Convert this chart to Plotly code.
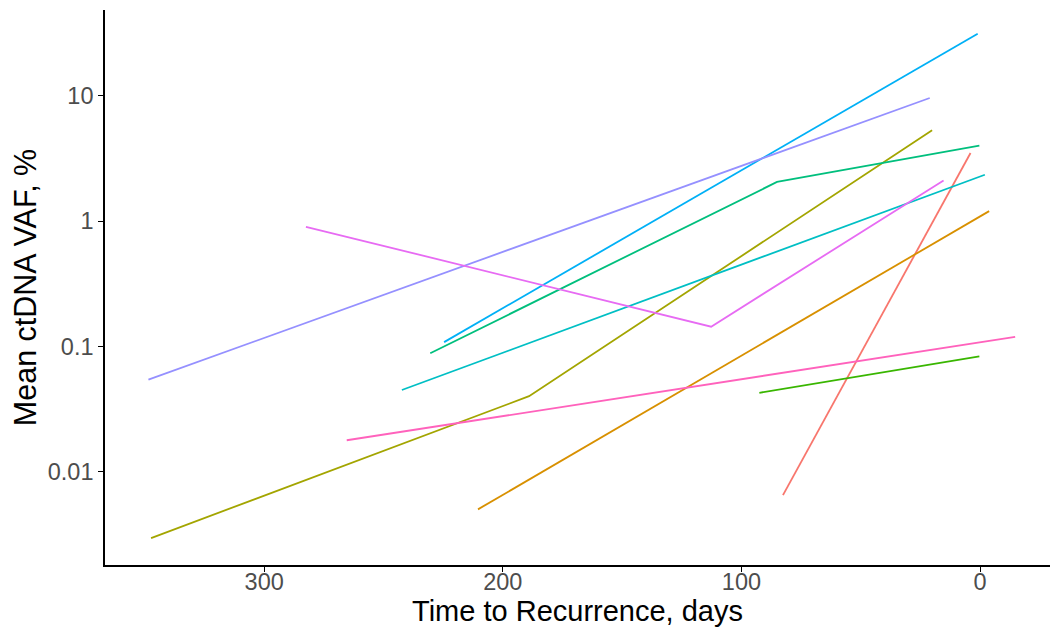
import plotly.graph_objects as go

# Per-patient ctDNA trajectories: days before recurrence and mean VAF (%)
patients = ["P1", "P2", "P3", "P4", "P5", "P6", "P7", "P8", "P9", "P10"]
days = [
    [82.6, 4.0],
    [210.4, -3.8],
    [347.4, 189.0, 20.1],
    [92.5, 0.3],
    [230.4, 85.1, 0.3],
    [242.3, -2.0],
    [224.6, 1.0],
    [348.5, 21.1],
    [282.5, 112.7, 15.3],
    [265.4, -14.7],
]
vaf = [
    [0.0065, 3.49],
    [0.0050, 1.20],
    [0.00295, 0.040, 5.3],
    [0.0426, 0.0832],
    [0.088, 2.05, 3.99],
    [0.0448, 2.34],
    [0.108, 31.2],
    [0.0542, 9.59],
    [0.90, 0.1435, 2.11],
    [0.0178, 0.119],
]
colors = ["#F8766D", "#D89000", "#A3A500", "#39B600", "#00BF7D",
          "#00BFC4", "#00B0F6", "#9590FF", "#E76BF3", "#FF62BC"]

y_ticks = [0.01, 0.1, 1, 10]
y_tick_text = ["0.01", "0.1", "1", "10"]
x_ticks = [300, 200, 100, 0]

fig = go.Figure()
for name, d, v, c in zip(patients, days, vaf, colors):
    fig.add_trace(go.Scatter(x=d, y=v, mode="lines", name=name,
                             line=dict(color=c, width=1.8)))

font_family = "Liberation Sans, Arial, sans-serif"
fig.update_layout(
    width=1050, height=633,
    margin=dict(l=105, r=0, t=10, b=68),
    paper_bgcolor="white", plot_bgcolor="white",
    showlegend=False,
    font=dict(family=font_family),
    xaxis=dict(
        range=[366.7, -29.3],
        tickvals=x_ticks,
        ticks="outside", ticklen=5, tickwidth=1.2, tickcolor="black",
        ticklabelstandoff=-10,
        showline=True, linecolor="black", linewidth=1.6,
        showgrid=False, zeroline=False,
        tickfont=dict(size=23.5, color="#4D4D4D", family=font_family),
        title=dict(text="Time to Recurrence, days", standoff=4,
                   font=dict(size=29, color="black", family=font_family)),
    ),
    yaxis=dict(
        type="log",
        range=[-2.745, 1.684],
        tickvals=y_ticks, ticktext=y_tick_text,
        ticks="outside", ticklen=5, tickwidth=1.2, tickcolor="black",
        showline=True, linecolor="black", linewidth=1.6,
        showgrid=False, zeroline=False,
        tickfont=dict(size=23.5, color="#4D4D4D", family=font_family),
        title=dict(text="Mean ctDNA VAF, %", standoff=2,
                   font=dict(size=30.5, color="black", family=font_family)),
    ),
)

fig.write_html("out.html")
